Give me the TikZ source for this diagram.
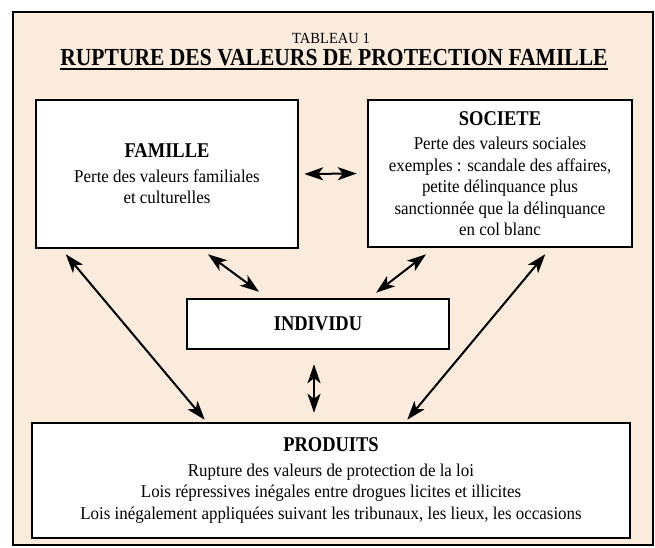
\documentclass[tikz,border=0pt]{standalone}
\usepackage{fontspec}
\setmainfont[FakeStretch=0.94]{Liberation Serif}
\newfontfamily\headfont[FakeStretch=0.88]{Liberation Serif}
\usetikzlibrary{arrows.meta}

\definecolor{peach}{RGB}{250,235,221}
\newcommand{\boxhead}[1]{{\headfont\bfseries\fontsize{21}{21}\selectfont #1}}

\tikzset{
    box/.style={draw, line width=2.5pt, fill=white, align=center, inner sep=0pt,
        font=\fontsize{18}{21.5}\selectfont},
    link/.style={line width=2pt,
        {Stealth[length=19pt,width=13pt,inset=5pt]}-{Stealth[length=19pt,width=13pt,inset=5pt]}},
}

\begin{document}
\begin{tikzpicture}[x=1pt, y=-1pt]
    \useasboundingbox (0,0) rectangle (655,547);

    % Draw frame
    \draw[fill=peach, line width=2.5pt] (13,12) rectangle (653,545);

    \node[anchor=base, inner sep=0pt, font=\fontsize{15.5}{15.5}\selectfont] (tableau) at (331,43.5) {TABLEAU 1};
    \node[anchor=base, inner sep=0pt] (titre) at (334,65.5)
        {\headfont\bfseries\fontsize{24.5}{24.5}\selectfont RUPTURE DES VALEURS DE PROTECTION FAMILLE};
    \draw[line width=1.6pt] ([yshift=-3.5pt]titre.base west) -- ([yshift=-3.5pt]titre.base east);

    % Boxes
    \node[box, minimum width=262pt, minimum height=148pt] (famille) at (167,174)
        {\boxhead{FAMILLE}\\[3pt] Perte des valeurs familiales\\ et culturelles};
    \node[box, minimum width=264pt, minimum height=147pt] (societe) at (500,173.5)
        {\boxhead{SOCIETE}\\[3pt] Perte des valeurs sociales\\ exemples : scandale des affaires,\\
         petite délinquance plus\\ sanctionnée que la délinquance\\ en col blanc};
    \node[box, minimum width=262pt, minimum height=50pt] (individu) at (318,324)
        {\boxhead{INDIVIDU}};
    \node[box, minimum width=598pt, minimum height=115pt] (produits) at (331,480.5)
        {\boxhead{PRODUITS}\\[3pt] Rupture des valeurs de protection de la loi\\
         Lois répressives inégales entre drogues licites et illicites\\
         Lois inégalement appliquées suivant les tribunaux, les lieux, les occasions};

    % Arrows
    \draw[link] ([xshift=5pt]famille.east) -- ([xshift=-10pt]societe.west);
    \draw[link] ([xshift=41pt,yshift=-5pt]famille.south) -- ([xshift=-59pt,yshift=6pt]individu.north);
    \draw[link] ([xshift=-74pt,yshift=-6pt]societe.south) -- ([xshift=58pt,yshift=5pt]individu.north);
    \draw[link] ([xshift=31pt,yshift=-5pt]famille.south west) -- ([xshift=174pt,yshift=2pt]produits.north west);
    \draw[link] ([xshift=-88pt,yshift=-6pt]societe.south east) -- ([xshift=-224pt,yshift=2pt]produits.north east);
    \draw[link] ([xshift=-4pt,yshift=-14pt]individu.south) -- ([xshift=-17pt,yshift=9pt]produits.north);

\end{tikzpicture}
\end{document}
